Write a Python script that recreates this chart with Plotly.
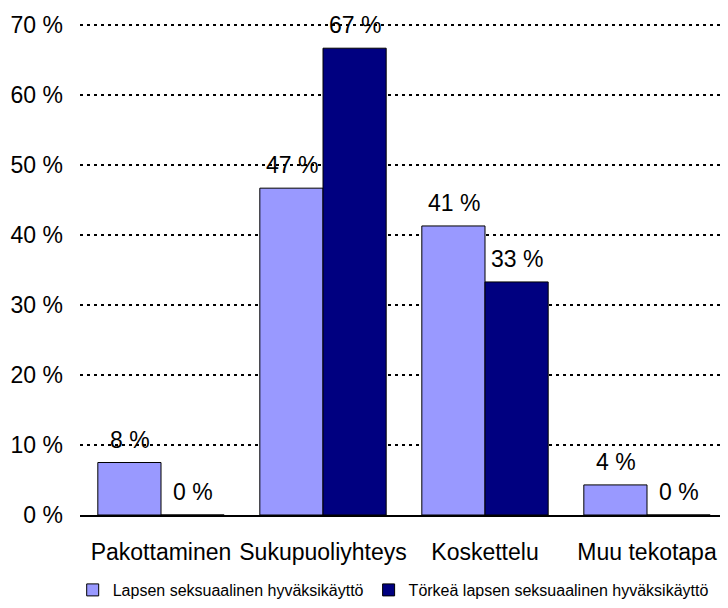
import plotly.graph_objects as go

categories = ["Pakottaminen", "Sukupuoliyhteys", "Koskettelu", "Muu tekotapa"]
series_names = ["Lapsen seksuaalinen hyväksikäyttö", "Törkeä lapsen seksuaalinen hyväksikäyttö"]
light_values = [7.5, 46.7, 41.3, 4.3]
dark_values = [0.0, 66.7, 33.3, 0.0]
light_labels = ["8 %", "47 %", "41 %", "4 %"]
dark_labels = ["0 %", "67 %", "33 %", "0 %"]
y_ticks = [0, 10, 20, 30, 40, 50, 60, 70]
y_tick_labels = ["0 %", "10 %", "20 %", "30 %", "40 %", "50 %", "60 %", "70 %"]

FONT = "Liberation Sans, Arial, sans-serif"
colors = ["#9999FF", "#000080"]

fig = go.Figure()
for name, vals, col in zip(series_names, [light_values, dark_values], colors):
    fig.add_trace(go.Bar(
        x=categories, y=vals, name=name,
        marker=dict(color=col, line=dict(color="#000000", width=1)),
    ))

annotations = []
for vals, labels, shift in [(light_values, light_labels, -31.5), (dark_values, dark_labels, 31.5)]:
    for c, v, t in zip(categories, vals, labels):
        annotations.append(dict(
            x=c, y=v, xref="x", yref="y", text=t, showarrow=False,
            xshift=shift, yshift=8, yanchor="bottom",
            font=dict(family=FONT, size=23, color="#000000"),
        ))

fig.update_layout(
    width=720, height=600,
    margin=dict(l=72, r=0, t=15, b=93, autoexpand=False),
    paper_bgcolor="white", plot_bgcolor="white",
    barmode="group", bargap=0.22, bargroupgap=0,
    font=dict(family=FONT, size=23, color="#000000"),
    annotations=annotations,
    legend=dict(
        orientation="h", xref="container", x=0.535, xanchor="center",
        yref="container", y=0.03, yanchor="middle",
        font=dict(family=FONT, size=16, color="#000000"),
        itemwidth=30, tracegroupgap=0,
    ),
    xaxis=dict(
        showline=True, linecolor="#000000", linewidth=1.5,
        ticks="", showgrid=False, ticklabelstandoff=16,
        tickfont=dict(family=FONT, size=23, color="#000000"),
    ),
    yaxis=dict(
        range=[0, 70.3], tickvals=y_ticks, ticktext=y_tick_labels,
        showgrid=True, gridcolor="#000000", gridwidth=2, griddash="3px,4px",
        zeroline=False, showline=False, ticks="", ticklabelstandoff=16,
        tickfont=dict(family=FONT, size=23, color="#000000"),
    ),
)

fig.write_html("out.html")
